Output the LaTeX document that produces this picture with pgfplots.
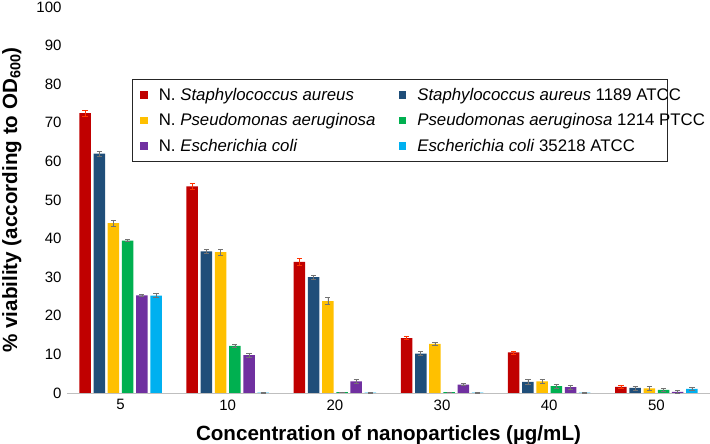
\documentclass[border=0pt]{standalone}
\usepackage{fontspec}
\setmainfont{Liberation Sans}
\usepackage{pgfplots}
\pgfplotsset{compat=1.18}
\usetikzlibrary{calc}
\definecolor{cRed}{HTML}{C00000}
\definecolor{cBlue}{HTML}{1F4E79}
\definecolor{cYel}{HTML}{FFC000}
\definecolor{cGrn}{HTML}{00B050}
\definecolor{cPur}{HTML}{7030A0}
\definecolor{cCya}{HTML}{00B0F0}
\begin{document}
\begin{tikzpicture}
\begin{axis}[
  name=ax,
  scale only axis,
  width=643pt, height=386pt,
  xmin=-0.5, xmax=5.5, ymin=0, ymax=100,
  ybar=2.7pt, bar width=11.5pt,
  axis x line*=bottom, axis y line*=left,
  x axis line style={black!25, line width=0.8pt},
  y axis line style={draw=none},
  major tick length=0pt,
  xtick={0,1,2,3,4,5},
  xticklabels={5,10,20,30,40,50},
  ytick={0,10,...,100},
  /pgf/number format/assume math mode=true,
  tick label style={font=\fontsize{15}{18}\selectfont},
  yticklabel style={xshift=-2pt},
  xticklabel style={yshift=-3pt},
  xlabel={Concentration of nanoparticles (µg/mL)},
  ylabel={\% viability (according to OD\textsubscript{600})},
  label style={font=\fontsize{20.6}{24}\selectfont\bfseries},
  ylabel style={yshift=8pt},
  xlabel style={yshift=-9pt},
  clip=false,
  legend columns=2,
  legend cell align=left,
  legend style={at={(0.101,0.813)}, anchor=north west, draw=black!85, line width=0.8pt,
    font=\fontsize{16.8}{19}\selectfont, inner xsep=8pt, inner ysep=6.5pt, row sep=8pt},
  legend image code/.code={\fill[#1] (0pt,-3.8pt) rectangle (7.6pt,3.8pt); \path (16.5pt,0pt);},
  error bars/y dir=both, error bars/y explicit,
  error bars/error bar style={black!55, line width=0.6pt},
  error bars/error mark options={rotate=90, mark size=2.6pt, line width=0.6pt, black!55},
]
\addplot+[fill=cRed, draw=none, error bars/error bar style={red!60!orange}, error bars/error mark options={rotate=90, mark size=2.6pt, line width=0.6pt, red!60!orange}] coordinates {
 (0,72.5) +- (0,0.8) (1,53.5) +- (0,0.8) (2,34.0) +- (0,0.8) (3,14.2) +- (0,0.4) (4,10.5) +- (0,0.4) (5,1.6) +- (0,0.4)};
\addplot+[fill=cBlue, draw=none] coordinates {
 (0,62.0) +- (0,0.6) (1,36.7) +- (0,0.5) (2,30.0) +- (0,0.6) (3,10.2) +- (0,0.5) (4,2.9) +- (0,0.6) (5,1.3) +- (0,0.5)};
\addplot+[fill=cYel, draw=none] coordinates {
 (0,44.0) +- (0,0.7) (1,36.5) +- (0,0.8) (2,23.8) +- (0,0.9) (3,12.7) +- (0,0.4) (4,3.0) +- (0,0.6) (5,1.2) +- (0,0.6)};
\addplot+[fill=cGrn, draw=none] coordinates {
 (0,39.5) +- (0,0.2) (1,12.2) +- (0,0.3) (2,0.2) +- (0,0.1) (3,0.2) +- (0,0.1) (4,1.8) +- (0,0.5) (5,0.8) +- (0,0.4)};
\addplot+[fill=cPur, draw=none] coordinates {
 (0,25.3) +- (0,0.3) (1,9.8) +- (0,0.5) (2,3.0) +- (0,0.5) (3,2.2) +- (0,0.3) (4,1.5) +- (0,0.5) (5,0.3) +- (0,0.3)};
\addplot+[fill=cCya, draw=none] coordinates {
 (0,25.2) +- (0,0.5) (1,0.1) +- (0,0.1) (2,0.1) +- (0,0.1) (3,0.1) +- (0,0.1) (4,0.1) +- (0,0.1) (5,1.1) +- (0,0.5)};
\legend{\makebox[238pt][l]{N. \textit{Staphylococcus aureus}},\makebox[240pt][l]{\textit{Staphylococcus aureus} 1189 ATCC},
 \makebox[238pt][l]{N. \textit{Pseudomonas aeruginosa}},\makebox[240pt][l]{\textit{Pseudomonas aeruginosa} 1214 PTCC},
 \makebox[238pt][l]{N. \textit{Escherichia coli}},\makebox[240pt][l]{\textit{Escherichia coli} 35218 ATCC}}
\end{axis}
\pgfresetboundingbox
\path[use as bounding box] ($(ax.south west)+(-67pt,-51pt)$) rectangle ($(ax.south west)+(643pt,393pt)$);
\end{tikzpicture}
\end{document}
